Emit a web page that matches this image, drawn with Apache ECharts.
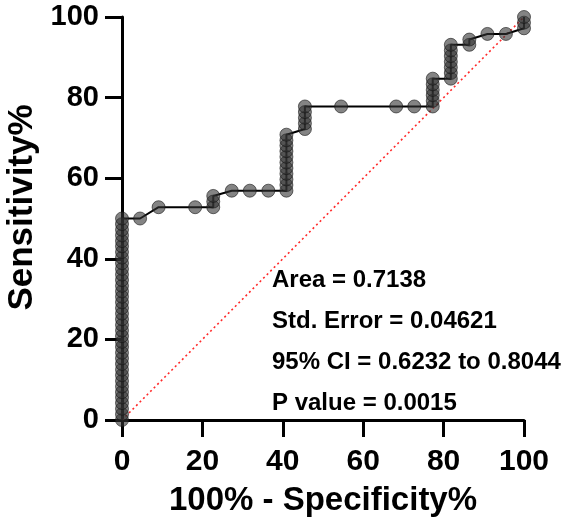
<!DOCTYPE html>
<html>
<head>
<meta charset="utf-8">
<script src="https://cdn.jsdelivr.net/npm/echarts@6/dist/echarts.min.js"></script>
<style>
  html, body { margin: 0; padding: 0; background: #fff; }
  #roc { width: 566px; height: 530px; }
</style>
</head>
<body>
<div id="roc"></div>
<script>
// ROC points (100% - Specificity%, Sensitivity%)
const rocX = [
  0, 0, 0, 0, 0, 0, 0, 0, 0, 0, 0, 0, 0, 0, 0, 0, 0, 0, 0, 0,
  0, 0, 0, 0, 0, 0, 0, 0, 0, 0, 0, 0, 0, 0, 0, 0, 0,
  4.5, 9.1, 18.2, 22.7, 22.7, 22.7, 27.3, 31.8, 36.4,
  40.9, 40.9, 40.9, 40.9, 40.9, 40.9, 40.9, 40.9, 40.9, 40.9, 40.9,
  45.5, 45.5, 45.5, 45.5, 45.5,
  54.5, 68.2, 72.7,
  77.3, 77.3, 77.3, 77.3, 77.3, 77.3,
  81.8, 81.8, 81.8, 81.8, 81.8, 81.8, 81.8,
  86.4, 86.4, 90.9, 95.5,
  100, 100, 100
];
const rocY = [
  0, 1.4, 2.8, 4.2, 5.6, 6.9, 8.3, 9.7, 11.1, 12.5, 13.9, 15.3, 16.7, 18.1, 19.4, 20.8, 22.2, 23.6, 25, 26.4,
  27.8, 29.2, 30.6, 31.9, 33.3, 34.7, 36.1, 37.5, 38.9, 40.3, 41.7, 43.1, 44.4, 45.8, 47.2, 48.6, 50,
  50, 52.8, 52.8, 52.8, 54.2, 55.6, 56.9, 56.9, 56.9,
  56.9, 58.3, 59.7, 61.1, 62.5, 63.9, 65.3, 66.7, 68.1, 69.4, 70.8,
  72.2, 73.6, 75, 76.4, 77.8,
  77.8, 77.8, 77.8,
  77.8, 79.2, 80.6, 81.9, 83.3, 84.7,
  84.7, 86.1, 87.5, 88.9, 90.3, 91.7, 93.1,
  93.1, 94.4, 95.8, 95.8,
  97.2, 98.6, 100
];
// line of identity
const refX = [0, 100];
const refY = [0, 100];

const statLines = [
  'Area = 0.7138',
  'Std. Error = 0.04621',
  '95% CI = 0.6232 to 0.8044',
  'P value = 0.0015'
];

const font = '"Liberation Sans", Arial, sans-serif';

const chart = echarts.init(document.getElementById('roc'));

const option = {
  animation: false,
  grid: { left: 122, right: 42, top: 17, bottom: 110, outerBoundsMode: 'none', containLabel: false },
  xAxis: {
    type: 'value',
    min: 0, max: 100, interval: 20,
    name: '100% - Specificity%',
    nameLocation: 'middle',
    nameGap: 64,
    nameTextStyle: { fontFamily: font, fontWeight: 'bold', fontSize: 33, color: '#000' },
    axisLine: { onZero: false, lineStyle: { color: '#000', width: 3 } },
    axisTick: { length: 17, lineStyle: { color: '#000', width: 3 } },
    axisLabel: { margin: 27, fontFamily: font, fontWeight: 'bold', fontSize: 30, color: '#000' },
    splitLine: { show: false }
  },
  yAxis: {
    type: 'value',
    min: 0, max: 100, interval: 20,
    name: 'Sensitivity%',
    nameLocation: 'middle',
    nameGap: 78,
    nameTextStyle: { fontFamily: font, fontWeight: 'bold', fontSize: 35, color: '#000', padding: [0, 0, 0, 22] },
    axisLine: { onZero: false, lineStyle: { color: '#000', width: 3 } },
    axisTick: { length: 17, lineStyle: { color: '#000', width: 3 } },
    axisLabel: { margin: 23, fontFamily: font, fontWeight: 'bold', fontSize: 29, color: '#000' },
    splitLine: { show: false }
  },
  series: [
    {
      type: 'line',
      data: refX.map((x, i) => [x, refY[i]]),
      symbol: 'none',
      lineStyle: { color: '#ff2a2a', width: 1.6, type: [2, 3] },
      z: 1
    },
    {
      type: 'line',
      data: rocX.map((x, i) => [x, rocY[i]]),
      symbol: 'circle',
      symbolSize: 13,
      showAllSymbol: true,
      lineStyle: { color: '#000', width: 2 },
      itemStyle: { color: 'rgba(50,50,50,0.6)', borderColor: 'rgba(20,20,20,0.6)', borderWidth: 1 },
      z: 2
    }
  ],
  graphic: statLines.map((t, i) => ({
    type: 'text',
    left: 272,
    top: 268 + i * 41,
    style: { text: t, fontFamily: font, fontWeight: 'bold', fontSize: 24, fill: '#000' }
  }))
};

chart.setOption(option);
</script>
</body>
</html>
